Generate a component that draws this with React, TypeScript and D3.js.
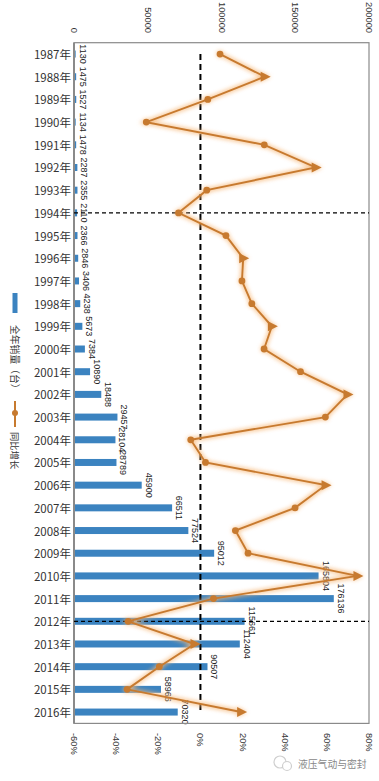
import React from "react";
import * as d3 from "d3";

const years = ["1987年","1988年","1989年","1990年","1991年","1992年","1993年","1994年","1995年","1996年","1997年","1998年","1999年","2000年","2001年","2002年","2003年","2004年","2005年","2006年","2007年","2008年","2009年","2010年","2011年","2012年","2013年","2014年","2015年","2016年"];
const sales = [1130,1475,1527,1134,1478,2287,2355,2110,2366,2846,3406,4238,5673,7384,10890,18488,29457,28104,28789,45900,66511,77524,95012,165804,176136,115661,112404,90507,58966,70320];
const growth = [9.3,30.5,3.5,-25.7,30.3,54.7,3.0,-10.4,12.1,20.3,19.7,24.4,33.9,30.2,47.5,69.8,59.3,-4.6,2.4,59.4,44.9,16.6,22.6,74.5,6.2,-34.3,-2.8,-19.5,-34.8,19.3];
const salesTicks = [0, 50000, 100000, 150000, 200000];
const growthTicks = [-60, -40, -20, 0, 20, 40, 60, 80];
const markedYears = ["1994年", "2012年"];
const legendBar = "全年销量（台）";
const legendLine = "同比增长";
const watermark = "液压气动与密封";

const W = 379, H = 781;
const L = 74, R = 369, T = 42.7, B = 723.4;
const BLUE = "#3b83c0";
const ORANGE = "#c77a2f";
const TICKFONT = "'Liberation Sans', Arial, sans-serif";
const CJK = "'Noto Sans CJK SC', sans-serif";

export default function App() {
  const y = d3.scaleBand<string>().domain(years).range([T, B]).padding(0);
  const yc = (k: string) => (y(k) as number) + y.bandwidth() / 2;
  const xs = d3.scaleLinear().domain([0, 200000]).range([L, R]);
  const xg = d3.scaleLinear().domain([-60, 80]).range([L, R]);
  const barH = 7;

  const pts: [number, number][] = growth.map((g, i) => [xg(g), yc(years[i])]);
  const line = d3.line()(pts) || "";
  const isPeak = (i: number) =>
    (i === growth.length - 1 && growth[i] > growth[i - 1]) ||
    (i > 0 && i < growth.length - 1 && growth[i] > growth[i - 1] && growth[i] > growth[i + 1]);

  const marker = (px: number, py: number, i: number, fill: string) =>
    isPeak(i) ? (
      <path key={"m" + i + fill} d={`M${px - 4},${py - 5}L${px + 6},${py}L${px - 4},${py + 5}Z`} fill={fill} />
    ) : (
      <circle key={"m" + i + fill} cx={px} cy={py} r={3.4} fill={fill} />
    );

  return (
    <svg width={W} height={H} style={{ position: "absolute", left: 0, top: 0, display: "block", background: "#fff" }}>
      <defs>
        <filter id="glow" x="-20%" y="-20%" width="140%" height="140%">
          <feGaussianBlur stdDeviation="2" />
        </filter>
      </defs>
      {/* top axis ticks */}
      {salesTicks.map((t) => (
        <text key={"st" + t} transform={`translate(${xs(t)},33) rotate(90)`} textAnchor="end" dominantBaseline="central"
          fontSize={9.3} fontFamily={TICKFONT} fill="#333">{t}</text>
      ))}
      {/* bottom axis ticks */}
      {growthTicks.map((t) => (
        <text key={"gt" + t} transform={`translate(${xg(t)},733) rotate(90)`} textAnchor="start" dominantBaseline="central"
          fontSize={9.3} fontFamily={TICKFONT} fill="#333">{t + "%"}</text>
      ))}
      {/* year labels */}
      {years.map((k) => (
        <text key={"y" + k} x={71} y={yc(k)} textAnchor="end" dominantBaseline="central"
          fontSize={11.5} fontFamily={CJK} fill="#333">{k}</text>
      ))}
      {/* bars */}
      {sales.map((v, i) => (
        <rect key={"b" + i} x={xs(0)} y={yc(years[i]) - barH / 2} width={xs(v) - xs(0)} height={barH} fill={BLUE} />
      ))}
      {/* bar labels */}
      {sales.map((v, i) => (
        <text key={"bl" + i} transform={`translate(${xs(v) + 7},${yc(years[i])}) rotate(90)`} textAnchor="middle"
          dominantBaseline="central" fontSize={9} fontFamily={TICKFONT} fill="#222">{v}</text>
      ))}
      {/* frame */}
      <rect x={L} y={T} width={R - L} height={B - T} fill="none" stroke="#8a8a8a" strokeWidth={1.2} />
      <line x1={L} x2={L} y1={T} y2={B} stroke="#8a8a8a" strokeWidth={2} />
      {/* dashed reference lines */}
      <line x1={xg(0)} x2={xg(0)} y1={yc(years[0])} y2={yc(years[years.length - 1])} stroke="#000" strokeWidth={2} strokeDasharray="6,4" />
      {markedYears.map((k) => (
        <line key={"h" + k} x1={L} x2={R} y1={yc(k)} y2={yc(k)} stroke="#000" strokeWidth={1.2} strokeDasharray="4,3" />
      ))}
      {/* growth line glow */}
      <g filter="url(#glow)" opacity={0.85}>
        <path d={line} fill="none" stroke="#f7b878" strokeWidth={4} />
        {pts.map(([px, py], i) => marker(px, py, i, "#f7b878"))}
      </g>
      <path d={line} fill="none" stroke={ORANGE} strokeWidth={1.9} />
      {pts.map(([px, py], i) => marker(px, py, i, ORANGE))}
      {/* legend */}
      <rect x={12.5} y={293} width={5} height={20} fill={BLUE} />
      <text transform="translate(15,325) rotate(90)" textAnchor="start" dominantBaseline="central" fontSize={9.8} fontFamily={CJK} fill="#333">{legendBar}</text>
      <line x1={15} x2={15} y1={401} y2={427} stroke={ORANGE} strokeWidth={2} />
      <circle cx={15} cy={413} r={3} fill={ORANGE} />
      <text transform="translate(15,432) rotate(90)" textAnchor="start" dominantBaseline="central" fontSize={9.3} fontFamily={CJK} fill="#333">{legendLine}</text>
      {/* watermark */}
      <g opacity={0.7}>
        <circle cx={280} cy={762} r={6} fill="none" stroke="#bbb" strokeWidth={1.2} />
        <circle cx={287} cy={766} r={4.5} fill="#fff" stroke="#bbb" strokeWidth={1.2} />
      </g>
      <text x={298} y={764} dominantBaseline="central" fontSize={9.8} fontFamily={CJK} fill="#888">{watermark}</text>
    </svg>
  );
}
